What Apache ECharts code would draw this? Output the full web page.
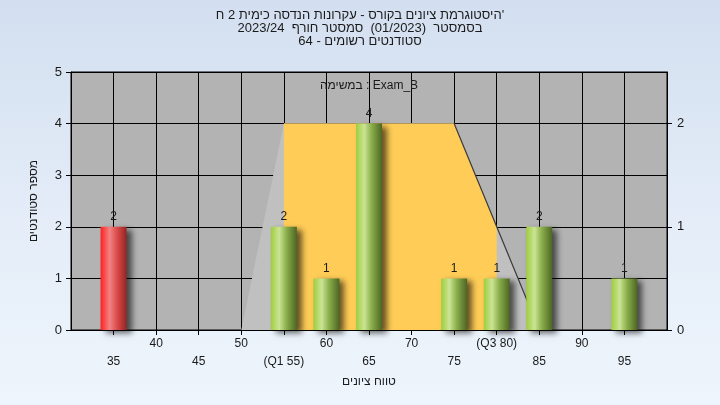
<!DOCTYPE html>
<html>
<head>
<meta charset="utf-8">
<script src="https://cdn.jsdelivr.net/npm/echarts@6/dist/echarts.min.js"></script>
<style>
  html, body { margin: 0; padding: 0; }
  body { width: 720px; height: 405px; background: linear-gradient(to bottom, #d3dff0 0%, #e4edf8 55%, #eef5fc 100%); }
  #chart { width: 720px; height: 405px; }
</style>
</head>
<body>
<div id="chart"></div>
<script>
// ---- data ----
const titleLines = [
  "היסטוגרמת ציונים בקורס - עקרונות הנדסה כימית 2 ח'",
  "בסמסטר  (01/2023)  סמסטר חורף  2023/24",
  "סטודנטים רשומים - 64"
];
const legendText = "במשימה : Exam_B";
const yAxisTitle = "מספר סטודנטים";
const xAxisTitle = "טווח ציונים";

const scores = [35, 55, 60, 65, 75, 80, 85, 95];
const counts = [2, 2, 1, 4, 1, 1, 2, 1];
const failLimit = 55; // bars below this are red

const xTickValues = [35, 40, 45, 50, 55, 60, 65, 70, 75, 80, 85, 90, 95];
const xTickLabels = ['35', '40', '45', '50', '(Q1 55)', '60', '65', '70', '75', '(Q3 80)', '85', '90', '95'];
const xLowerRow = [35, 45, 55, 65, 75, 85, 95];

// background distribution shape (range trapezoid) and quartile area
const rangeX = [50, 55, 75, 85];
const rangeY = [0, 4, 4, 0];
const quartX = [55, 55, 75, 80, 80];
const quartY = [0, 4, 4, 2, 0];
const edgeX = [75, 85];
const edgeY = [4, 0];

const rightTicks = [0, 1, 2];

// ---- helpers ----
const zip = (a, b) => a.map((v, i) => [v, b[i]]);
const FONT = "'Liberation Sans', 'DejaVu Sans', Arial, sans-serif";
const TXT = '#1a1a1a';

const greenGrad = new echarts.graphic.LinearGradient(0, 0, 1, 0, [
  { offset: 0, color: '#9fcd3e' },
  { offset: 0.32, color: '#cbe494' },
  { offset: 0.6, color: '#8aae4a' },
  { offset: 1, color: '#4c6624' }
]);
const redGrad = new echarts.graphic.LinearGradient(0, 0, 1, 0, [
  { offset: 0, color: '#ff2020' },
  { offset: 0.35, color: '#f28282' },
  { offset: 0.65, color: '#d84848' },
  { offset: 1, color: '#962424' }
]);

const barData = scores.map((s, i) => ({
  value: [s, counts[i]],
  itemStyle: { color: s < failLimit ? redGrad : greenGrad }
}));

const titleTops = [9, 22, 35];
const titles = titleLines.map((line, i) => ({
  text: line,
  left: 'center',
  top: titleTops[i],
  padding: 0,
  textStyle: { fontFamily: FONT, fontSize: 13, fontWeight: 'normal', color: TXT }
}));
titles.push({
  text: legendText,
  left: 369,
  top: 80,
  textAlign: 'center',
  padding: 0,
  textStyle: { fontFamily: FONT, fontSize: 12, fontWeight: 'normal', color: TXT }
});

const chart = echarts.init(document.getElementById('chart'), null, { renderer: 'canvas' });

chart.setOption({
  backgroundColor: 'transparent',
  animation: false,
  title: titles,
  grid: {
    left: 71, right: 53, top: 72, bottom: 75,
    show: true, backgroundColor: '#b3b3b3', borderColor: '#000', borderWidth: 1
  },
  xAxis: {
    type: 'value', min: 30, max: 100, interval: 5,
    name: xAxisTitle, nameLocation: 'middle', nameGap: 44,
    nameTextStyle: { fontFamily: FONT, fontSize: 12, color: TXT },
    axisLine: { show: true, onZero: false, lineStyle: { color: '#000' } },
    axisTick: { show: true, length: 5, lineStyle: { color: '#000' } },
    splitLine: { show: true, lineStyle: { color: '#000', width: 1 } },
    axisLabel: {
      margin: 5, lineHeight: 18, fontFamily: FONT, fontSize: 12, color: TXT,
      showMinLabel: false, showMaxLabel: false,
      formatter: v => {
        const i = xTickValues.indexOf(v);
        if (i < 0) return '';
        return (xLowerRow.indexOf(v) >= 0 ? '\n' : '') + xTickLabels[i];
      }
    }
  },
  yAxis: [
    {
      type: 'value', min: 0, max: 5, interval: 1,
      name: yAxisTitle, nameLocation: 'middle', nameGap: 31, nameRotate: 90,
      nameTextStyle: { fontFamily: FONT, fontSize: 12, color: TXT },
      axisLine: { show: true, lineStyle: { color: '#000' } },
      axisTick: { show: true, length: 5, lineStyle: { color: '#000' } },
      splitLine: { show: true, lineStyle: { color: '#000', width: 1 } },
      axisLabel: { margin: 9, fontFamily: FONT, fontSize: 13, color: TXT }
    },
    {
      type: 'value', min: 0, max: 2.5, position: 'right',
      axisLine: { show: true, lineStyle: { color: '#000' } },
      axisTick: { show: true, length: 5, customValues: rightTicks, lineStyle: { color: '#000' } },
      splitLine: { show: false },
      axisLabel: { margin: 10, fontFamily: FONT, fontSize: 13, color: TXT, customValues: rightTicks }
    }
  ],
  series: [
    {
      type: 'line', data: zip(rangeX, rangeY), symbol: 'none', silent: true, z: 1,
      lineStyle: { width: 0, opacity: 0 },
      areaStyle: { color: '#c0c0c0', opacity: 1 }
    },
    {
      type: 'line', data: zip(quartX, quartY), symbol: 'none', silent: true, z: 1,
      lineStyle: { width: 0, opacity: 0 },
      areaStyle: { color: '#ffcc57', opacity: 1 }
    },
    {
      type: 'line', data: zip(edgeX, edgeY), symbol: 'none', silent: true, z: 1,
      lineStyle: { width: 1.2, color: '#3a3a3a' }
    },
    {
      type: 'bar', data: barData, barWidth: 26, z: 3,
      itemStyle: {
        shadowColor: 'rgba(0,0,0,0.6)', shadowBlur: 6, shadowOffsetX: 5, shadowOffsetY: 3
      },
      label: {
        show: true, position: 'top', distance: 4,
        fontFamily: FONT, fontSize: 12, color: TXT,
        formatter: p => String(p.value[1])
      }
    }
  ]
});
</script>
</body>
</html>
